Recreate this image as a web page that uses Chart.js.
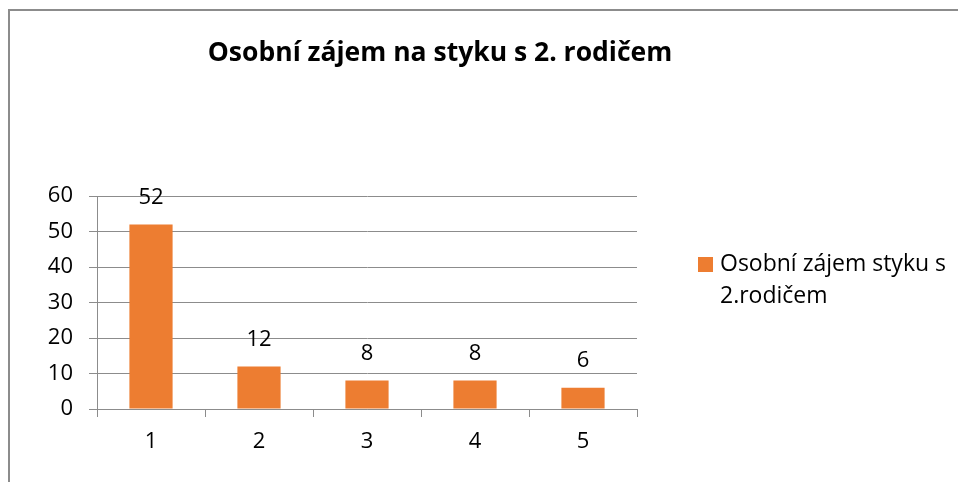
<!DOCTYPE html>
<html>
<head>
<meta charset="utf-8">
<script src="https://cdn.jsdelivr.net/npm/chart.js@4"></script>
<style>
  html, body { margin: 0; padding: 0; background: #fff; }
  #wrap { width: 958px; height: 482px; position: relative; }
</style>
</head>
<body>
<div id="wrap"><canvas id="chart" width="958" height="482"></canvas></div>
<script>
const categories = ['1', '2', '3', '4', '5'];
const values = [52, 12, 8, 8, 6];
const yTicks = [0, 10, 20, 30, 40, 50, 60];
const chartTitle = 'Osobní zájem na styku s 2. rodičem';
const seriesName = 'Osobní zájem styku s 2.rodičem';
const legendLines = ['Osobní zájem styku s', '2.rodičem'];

const FONT = '"Open Sans", Lato, sans-serif';
const ORANGE = '#ED7D31';
const GRID = '#8c8c8c';
const TXT = 22;

// frame, title, value labels and legend drawn on top of the chart
const decor = {
	id: 'decor',
	afterDraw(chart) {
		const ctx = chart.ctx;
		ctx.save();
		// outer frame (only top and left edges visible in the picture)
		ctx.strokeStyle = '#8c8c8c';
		ctx.lineWidth = 2;
		ctx.beginPath();
		ctx.moveTo(9, 482);
		ctx.lineTo(9, 10);
		ctx.lineTo(958, 10);
		ctx.stroke();

		// title
		ctx.fillStyle = '#000';
		ctx.font = 'bold 26.5px ' + FONT;
		ctx.textAlign = 'center';
		ctx.textBaseline = 'middle';
		ctx.fillText(chartTitle, 440, 53);

		// value labels above bars
		ctx.font = TXT + 'px ' + FONT;
		const meta = chart.getDatasetMeta(0);
		meta.data.forEach((bar, i) => {
			ctx.fillText(String(values[i]), bar.x, bar.y - 27);
		});

		// legend
		ctx.fillStyle = ORANGE;
		ctx.fillRect(698, 257, 15, 15);
		ctx.fillStyle = '#000';
		ctx.textAlign = 'left';
		ctx.font = '23px ' + FONT;
		legendLines.forEach((line, i) => {
			ctx.fillText(line, 720, 264 + i * 32);
		});
		ctx.restore();
	},
};

new Chart(document.getElementById('chart'), {
	type: 'bar',
	data: {
		labels: categories,
		datasets: [
			{
				label: seriesName,
				data: values,
				backgroundColor: ORANGE,
				borderWidth: 0,
				categoryPercentage: 1,
				barPercentage: 0.4,
			},
		],
	},
	options: {
		responsive: false,
		animation: false,
		layout: { padding: { top: 196, right: 321, left: 0, bottom: 0 } },
		plugins: {
			legend: { display: false },
			title: { display: false },
			tooltip: { enabled: false },
		},
		scales: {
			x: {
				afterFit: (scale) => { scale.height = 73; },
				grid: {
					offset: true,
					drawOnChartArea: false,
					drawTicks: true,
					tickLength: 8,
					color: GRID,
				},
				border: { color: GRID, width: 1 },
				ticks: { color: '#000', font: { family: FONT, size: TXT }, padding: 12 },
			},
			y: {
				min: 0,
				max: 60,
				afterFit: (scale) => { scale.width = 97; },
				afterBuildTicks: (scale) => {
					scale.ticks = yTicks.map((v) => ({ value: v }));
				},
				grid: { color: GRID, tickLength: 8 },
				border: { color: GRID, width: 1 },
				ticks: { color: '#000', font: { family: FONT, size: TXT }, padding: 16 },
			},
		},
	},
	plugins: [decor],
});
</script>
</body>
</html>
